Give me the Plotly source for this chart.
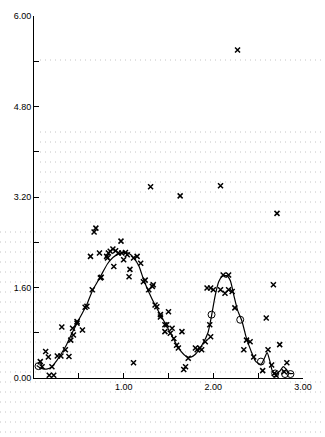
import plotly.graph_objects as go

# ---- data ----
curve_x = [0.03, 0.08, 0.15, 0.20, 0.25, 0.30, 0.36, 0.42, 0.48, 0.54, 0.59, 0.65, 0.70, 0.76,
           0.82, 0.88, 0.94, 1.00, 1.06, 1.11, 1.17, 1.22, 1.28, 1.35, 1.43, 1.52, 1.58, 1.64,
           1.70, 1.75, 1.80, 1.88, 1.94, 1.98, 2.02, 2.06, 2.10, 2.15, 2.19, 2.23, 2.27, 2.32,
           2.37, 2.42, 2.47, 2.53, 2.57, 2.60, 2.63, 2.66, 2.70, 2.74, 2.78, 2.81, 2.85, 2.89]
curve_y = [0.22, 0.17, 0.16, 0.20, 0.30, 0.42, 0.58, 0.78, 0.97, 1.15, 1.30, 1.54, 1.68, 1.85,
           2.02, 2.13, 2.19, 2.22, 2.20, 2.13, 1.98, 1.75, 1.52, 1.29, 1.06, 0.80, 0.62, 0.47,
           0.38, 0.37, 0.42, 0.60, 0.80, 1.10, 1.45, 1.70, 1.80, 1.81, 1.72, 1.45, 1.20, 1.00,
           0.70, 0.48, 0.30, 0.24, 0.35, 0.45, 0.30, 0.12, 0.08, 0.12, 0.20, 0.16, 0.08, 0.08]

cross_x = [0.05, 0.03, 0.32, 0.50, 0.17, 0.22, 0.07, 0.09, 0.20, 0.13, 0.16, 0.26, 0.30, 0.39,
           0.35, 0.41, 0.44, 0.31, 0.43, 0.54, 0.48, 0.48, 0.57, 0.59, 0.65, 0.74, 0.75,
           0.63, 0.73, 0.82, 0.85, 0.88, 0.89, 0.91, 0.83, 0.81, 0.67, 0.69, 0.97,
           0.94, 0.98, 1.02, 1.04, 1.00, 1.06, 1.07, 1.11, 1.15, 1.19, 1.22, 1.24,
           1.28, 1.32, 1.33, 1.30, 1.63, 2.08, 2.27, 2.71, 1.35, 1.37, 1.41, 1.41, 1.50,
           1.46, 1.48, 1.46, 1.52, 1.54, 1.56, 1.59, 1.61, 1.65, 1.11, 1.72, 1.69, 1.67,
           1.80, 1.82, 1.85, 1.87, 1.91, 1.84, 1.77, 2.38, 1.96, 1.97, 1.93, 1.97, 2.00,
           2.11, 2.17, 2.08, 2.13, 2.17, 2.21, 2.24, 2.37, 2.41, 2.34, 2.45, 2.59, 2.67,
           2.61, 2.74, 2.55, 2.82, 2.68, 2.70, 2.79, 2.65]
cross_y = [-0.15, -0.34, -0.16, -0.03, 0.05, 0.05, 0.29, 0.20, 0.20, 0.47, 0.37, 0.39, 0.39, 0.38,
           0.50, 0.67, 0.76, 0.90, 0.88, 0.85, 1.00, 0.97, 1.25, 1.27, 1.56, 1.77, 1.78,
           2.15, 2.21, 2.12, 2.24, 2.28, 1.97, 2.25, 2.21, 2.15, 2.58, 2.65, 2.42,
           2.21, 2.21, 2.22, 2.18, 2.09, 1.79, 1.92, 2.12, 2.15, 2.03, 1.70, 1.73,
           1.56, 1.62, 1.65, 3.38, 3.22, 3.40, 5.80, 2.91, 1.29, 1.26, 1.08, 1.12, 1.17,
           0.94, 0.94, 0.82, 0.79, 0.88, 0.70, 0.58, 0.53, 0.82, 0.27, 0.35, 0.20, 0.15,
           0.53, 0.50, 0.53, 0.50, 0.64, -0.25, -0.80, -0.27, 0.94, 0.73, 1.59, 1.59, 1.56,
           1.82, 1.82, 1.56, 1.50, 1.56, 1.53, 1.24, 0.67, 0.64, 0.50, 0.37, 1.06, 1.65,
           0.50, 0.59, 0.13, 0.27, 0.08, 0.05, 0.11, 0.23]

circle_x = [0.05, 1.98, 2.30, 2.53, 2.69, 2.80, 2.86]
circle_y = [0.21, 1.12, 1.03, 0.29, 0.08, 0.07, 0.07]

x_tickvals = [0.5, 1.0, 1.5, 2.0, 2.5, 3.0]
x_ticktext = ["", "1.00", "", "2.00", "", "3.00"]
y_tickvals = [0.0, 0.8, 1.6, 2.4, 3.2, 4.0, 4.8, 5.6, 6.4]
y_ticktext = ["0.00", "", "1.60", "", "3.20", "", "4.80", "", "6.00"]

# ---- figure ----
W, H = 325, 437
L, R, T, B = 34, 22, 16, 59

fig = go.Figure()
fig.add_trace(go.Scatter(x=curve_x, y=curve_y, mode="lines",
                         line=dict(color="black", width=1.2, shape="spline", smoothing=0.6),
                         cliponaxis=False, hoverinfo="skip"))
fig.add_trace(go.Scatter(x=cross_x, y=cross_y, mode="markers",
                         marker=dict(symbol="x-thin", size=5, color="black",
                                     line=dict(color="black", width=1.5)),
                         cliponaxis=False))
fig.add_trace(go.Scatter(x=circle_x, y=circle_y, mode="markers",
                         marker=dict(symbol="circle-open", size=7, color="black",
                                     line=dict(color="black", width=1)),
                         cliponaxis=False))

# faint dotted background texture (decoration)
pw, ph = W - L - R, H - T - B
def px2paper_x(px):
    return (px - L) / pw
def px2paper_y(py):
    return (H - B - py) / ph

shapes = []
rows = [(60, 40)] + [(py, 40) for py in range(132, 232, 10)] + [(py, 0) for py in range(232, 437, 10)]
for py, x0 in rows:
    shapes.append(dict(type="line", xref="paper", yref="paper",
                       x0=px2paper_x(x0), x1=px2paper_x(W), y0=px2paper_y(py), y1=px2paper_y(py),
                       line=dict(color="#c4c4c4", width=1, dash="1px,4px"), layer="below"))

fig.update_layout(
    width=W, height=H, margin=dict(l=L, r=R, t=T, b=B),
    paper_bgcolor="white", plot_bgcolor="rgba(0,0,0,0)",
    showlegend=False, shapes=shapes,
    font=dict(family="Liberation Sans", size=9, color="black"),
)
fig.update_xaxes(range=[0, 3], showgrid=False, zeroline=False, showline=True,
                 linecolor="black", linewidth=1, ticks="inside", ticklen=5, tickwidth=1,
                 tickcolor="black", tickvals=x_tickvals, ticktext=x_ticktext,
                 tickfont=dict(size=9, family="Liberation Sans", color="black"))
fig.update_yaxes(range=[0, 6.4], showgrid=False, zeroline=False, showline=True,
                 linecolor="black", linewidth=1, ticks="inside", ticklen=5, tickwidth=1,
                 tickcolor="black", tickvals=y_tickvals, ticktext=y_ticktext,
                 tickfont=dict(size=9, family="Liberation Sans", color="black"))

fig.write_html("out.html")
